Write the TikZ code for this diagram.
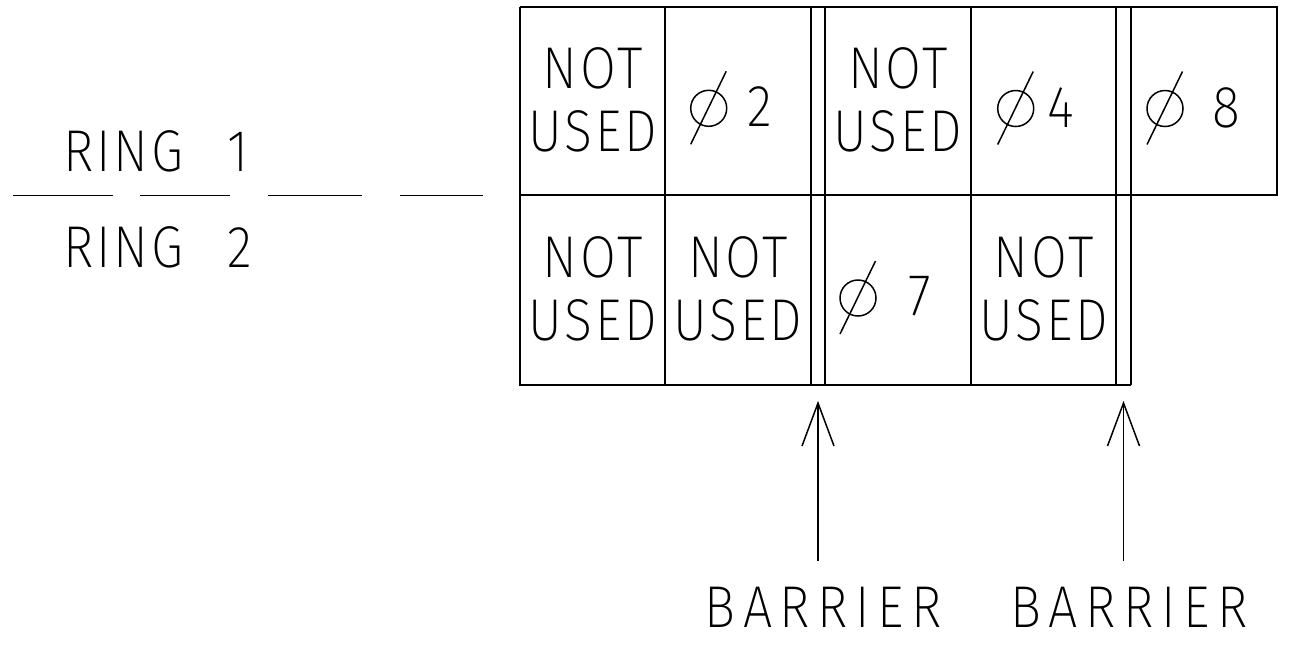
\documentclass[tikz,border=0pt]{standalone}
\usepackage{fontspec}
\IfFontExistsTF{Fira Sans ExtraLight}{%
  \newfontfamily\cadfont{Fira Sans ExtraLight}[FakeStretch=0.88,LetterSpace=5]}{%
\IfFontExistsTF{DejaVu Sans ExtraLight}{%
  \newfontfamily\cadfont{DejaVu Sans ExtraLight}[FakeStretch=0.85,LetterSpace=4]}{%
\IfFontExistsTF{Fira Sans Light}{%
  \newfontfamily\cadfont{Fira Sans Light}[FakeStretch=0.88,LetterSpace=5]}{%
  \newfontfamily\cadfont{Liberation Sans}[FakeStretch=0.85,LetterSpace=5]}}}
\tikzset{
  gridline/.style={line width=1.6pt},
  thinline/.style={line width=1.5pt},
  celltext/.style={inner sep=0pt, align=center, anchor=north},
  lbl/.style={inner sep=0pt},
  widelbl/.style={inner sep=0pt, font=\cadfont\addfontfeatures{LetterSpace=13}\fontsize{59}{63}\selectfont},
  phisym/.pic={
    \draw[thinline] (0,0) circle[radius=18pt];
    \draw[thinline] (-18,36) -- (17.5,-37);
  }
}
\begin{document}
\begin{tikzpicture}[x=1pt,y=-1pt,
  every node/.style={font=\cadfont\fontsize{59}{63}\selectfont}]
\useasboundingbox (0,0) rectangle (1306,657);

% grid of the ring table
\draw[gridline] (520,7) -- (1277,7) -- (1277,195) -- (520,195);
\draw[gridline] (520,7) -- (520,385) -- (1131,385);
\foreach \x in {665,811,825,971,1116,1131}
  \draw[gridline] (\x,7) -- (\x,385);

% ring labels and separator
\node[lbl, anchor=base west] (ring1) at (63,171) {RING\hspace{26pt} 1};
\node[lbl, anchor=base west] (ring2) at (63,267) {RING\hspace{26pt} 2};
\foreach \a/\b in {13/113,140/230,268/362,400/483}
  \draw[thinline] (\a,195.5) -- (\b,195.5);

% top row
\node[celltext] (t1) at (592.5,47.5) {NOT\\USED};
\pic (p2) at (708.7,108.3) {phisym};
\node[lbl, anchor=base] (d2) at (760,126) {2};
\node[celltext] (t3) at (898,47.5) {NOT\\USED};
\pic (p4) at (1015.7,108.5) {phisym};
\node[lbl, anchor=base] (d4) at (1061,127) {4};
\pic (p8) at (1165,108.5) {phisym};
\node[lbl, anchor=base] (d8) at (1226.5,127) {8};

% bottom row
\node[celltext] (u1) at (592.5,236.5) {NOT\\USED};
\node[celltext] (u2) at (738,236.5) {NOT\\USED};
\pic (p7) at (858,298) {phisym};
\node[lbl, anchor=base] (d7) at (920,315) {7};
\node[celltext] (u4) at (1043.5,236.5) {NOT\\USED};

% barrier labels and arrows
\node[widelbl, anchor=base] (b1) at (823.5,627) {BARRIER};
\node[widelbl, anchor=base] (b2) at (1129,627) {BARRIER};
\coordinate (a1tip) at (818,403);
\coordinate (a1end) at (818,561);
\coordinate (a2tip) at (1123.5,403);
\coordinate (a2end) at (1123.5,561);
\draw[thinline] (a1end) -- (a1tip);
\draw[thinline] ([xshift=-16pt,yshift=-43pt]a1tip) -- (a1tip) -- ([xshift=16pt,yshift=-43pt]a1tip);
\draw[thinline] (a2end) -- (a2tip);
\draw[thinline] ([xshift=-16pt,yshift=-43pt]a2tip) -- (a2tip) -- ([xshift=16pt,yshift=-43pt]a2tip);
\end{tikzpicture}
\end{document}
